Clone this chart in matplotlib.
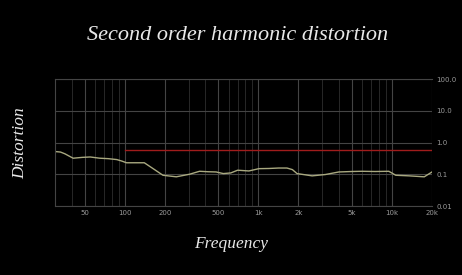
import matplotlib
matplotlib.use("Agg")
import matplotlib.pyplot as plt
from matplotlib.ticker import FixedLocator, NullFormatter, NullLocator

# measured 2nd harmonic distortion (%) vs frequency (Hz)
freq = [30, 33, 35.6, 41, 48, 55, 65, 75, 87, 95, 103, 120, 140, 163, 193, 243, 305, 363,
        420, 483, 547, 622, 700, 850, 1010, 1200, 1420, 1640, 1800, 1950, 2530, 3180,
        4010, 5000, 5980, 7500, 9500, 10700, 13500, 17500, 20000]
dist = [0.52, 0.50, 0.44, 0.32, 0.34, 0.35, 0.32, 0.31, 0.29, 0.26, 0.23, 0.23, 0.23, 0.15,
        0.093, 0.083, 0.10, 0.124, 0.12, 0.118, 0.105, 0.11, 0.134, 0.127, 0.15, 0.152,
        0.157, 0.157, 0.14, 0.105, 0.089, 0.098, 0.118, 0.122, 0.124, 0.122, 0.124, 0.093,
        0.089, 0.083, 0.118]

# threshold line
limit_freq = [100, 20000]
limit_val = [0.58, 0.58]

x_ticks = [50, 100, 200, 500, 1000, 2000, 5000, 10000, 20000]
x_labels = ["50", "100", "200", "500", "1k", "2k", "5k", "10k", "20k"]
y_ticks = [0.01, 0.1, 1, 10, 100]
y_labels = ["0.01", "0.1", "1.0", "10.0", "100.0"]

fig = plt.figure(figsize=(4.62, 2.75), dpi=100, facecolor="black")
ax = fig.add_axes([55/462, 1 - 206/275, 377/462, 127/275], facecolor="black")

ax.plot(freq, dist, color="#a9a980", lw=1.0)
ax.plot(limit_freq, limit_val, color="#a01c1c", lw=1.0)

ax.set_xscale("log")
ax.set_yscale("log")
ax.set_xlim(30, 20000)
ax.set_ylim(0.01, 100)

ax.xaxis.set_major_locator(FixedLocator(x_ticks))
ax.set_xticklabels(x_labels)
minor_x = [30, 40, 60, 70, 80, 90, 300, 400, 600, 700, 800, 900,
           3000, 4000, 6000, 7000, 8000, 9000]
ax.xaxis.set_minor_locator(FixedLocator(minor_x))
ax.xaxis.set_minor_formatter(NullFormatter())
ax.yaxis.set_major_locator(FixedLocator(y_ticks))
ax.set_yticklabels(y_labels)
ax.yaxis.set_minor_locator(NullLocator())
ax.yaxis.tick_right()

ax.grid(True, which="major", color="#444444", lw=0.8)
ax.grid(True, which="minor", axis="x", color="#2e2e2e", lw=0.6)
ax.tick_params(which="both", length=0, colors="#9a9a9a", labelsize=5, pad=3)
for s in ax.spines.values():
    s.set_color("#444444")
    s.set_linewidth(0.8)
ax.spines["right"].set_visible(False)

fig.text(238/462, 1 - 36/275, "Second order harmonic distortion", color="#e8e8e8",
         fontsize=16, family="Liberation Serif", style="italic", ha="center", va="center")
fig.text(231/462, 1 - 244/275, "Frequency", color="#e8e8e8",
         fontsize=12.5, family="Liberation Serif", style="italic", ha="center", va="center")
fig.text(20/462, 1 - 143/275, "Distortion", color="#e8e8e8", rotation=90,
         fontsize=12.5, family="Liberation Serif", style="italic", ha="center", va="center")

fig.savefig("out.png", dpi=100, facecolor="black")
